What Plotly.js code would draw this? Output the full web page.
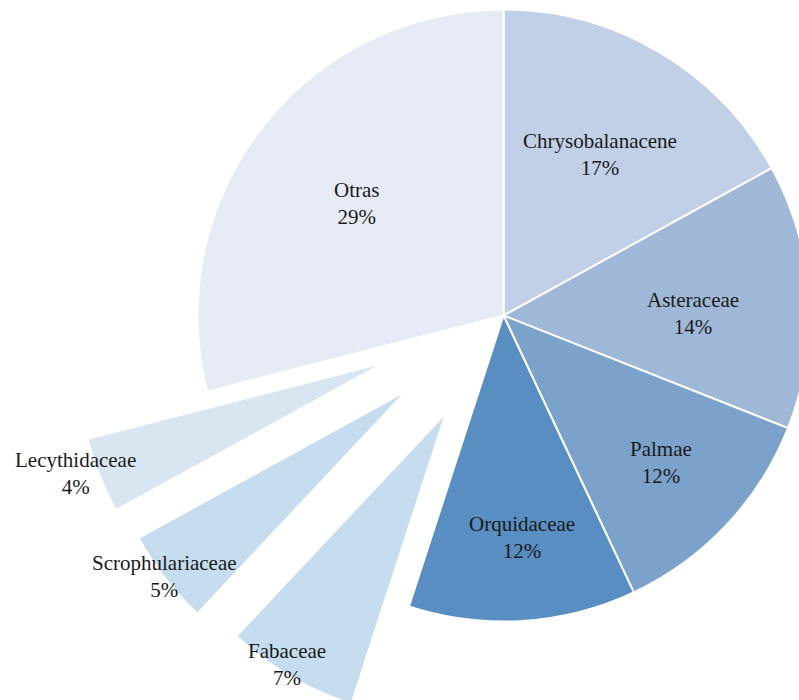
<!DOCTYPE html>
<html>
<head>
<meta charset="utf-8">
<script src="https://cdn.plot.ly/plotly-3.0.1.min.js"></script>
<style>
  html, body { margin: 0; padding: 0; overflow: hidden; background: #ffffff; width: 799px; height: 700px; }
  #chart { position: absolute; left: 0px; top: -150px; }
</style>
</head>
<body>
<div id="chart"></div>
<script>
// Data
var families = ['Chrysobalanacene', 'Asteraceae', 'Palmae', 'Orquidaceae', 'Fabaceae', 'Scrophulariaceae', 'Lecythidaceae', 'Otras'];
var shares = [17, 14, 12, 12, 7, 5, 4, 29];

// Styles
var sliceColors = ['#c1d0e6', '#9fb8d7', '#7ba2cb', '#588ec1', '#c5ddee', '#c5ddee', '#d9e5f0', '#e6ebf5'];
var pulls = [0, 0, 0, 0, 0.37, 0.40, 0.42, 0];
var fontFamily = '"Liberation Serif", "DejaVu Serif", serif';

// Label placements (page pixels, centre of the two-line label)
var labelPx = [[600, 154], [693, 313], [661, 462], [522, 537], [287, 664], [164, 576], [75, 473], [357, 203]];

// Layout geometry
var M_L = 69, M_T = 31, PLOT = 869, DIV_TOP = -150;

var total = shares.reduce(function (a, b) { return a + b; }, 0);
var annotations = families.map(function (f, i) {
  return {
    xref: 'paper', yref: 'paper',
    x: (labelPx[i][0] - M_L) / PLOT,
    y: 1 - (labelPx[i][1] - DIV_TOP - M_T) / PLOT,
    xanchor: 'center', yanchor: 'middle',
    showarrow: false,
    text: f + '<br>' + Math.round(shares[i] / total * 100) + '%',
    font: { family: fontFamily, size: 21, color: '#1a1a1a' }
  };
});

var trace = {
  type: 'pie',
  labels: families,
  values: shares,
  sort: false,
  direction: 'clockwise',
  rotation: 0,
  pull: pulls,
  marker: { colors: sliceColors, line: { color: '#ffffff', width: 2 } },
  textinfo: 'none',
  hoverinfo: 'skip',
  showlegend: false
};

var layout = {
  width: M_L + PLOT,
  height: M_T + PLOT,
  margin: { l: M_L, t: M_T, r: 0, b: 0, pad: 0 },
  paper_bgcolor: '#ffffff',
  plot_bgcolor: '#ffffff',
  showlegend: false,
  annotations: annotations,
  font: { family: fontFamily, size: 21, color: '#1a1a1a' }
};

Plotly.newPlot('chart', [trace], layout, { displayModeBar: false, staticPlot: true });
</script>
</body>
</html>
